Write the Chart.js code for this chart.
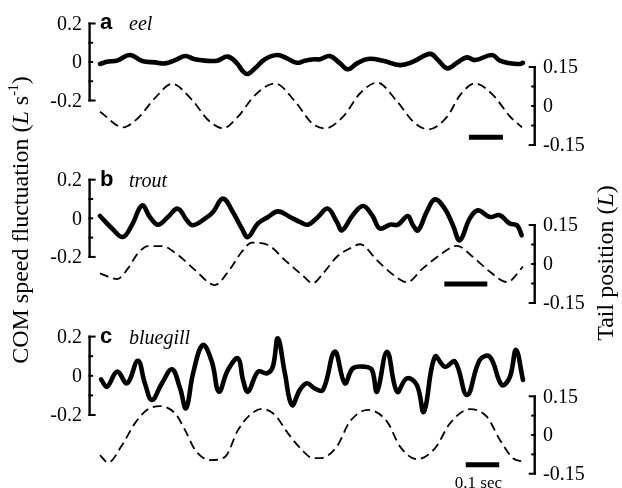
<!DOCTYPE html>
<html>
<head>
<meta charset="utf-8">
<script src="https://cdn.jsdelivr.net/npm/chart.js@4.4.1/dist/chart.umd.min.js"></script>
<style>
  html, body { margin: 0; padding: 0; background: #fff; }
  #wrap { position: relative; width: 622px; height: 488px; }
</style>
</head>
<body>
<div id="wrap"><canvas id="fishChart" width="622" height="488"></canvas></div>
<script>
// Values: time in s, COM speed fluctuation in L/s, tail position in L

// eel
const eelSpeedTime = [0, 0.024, 0.050, 0.088, 0.124, 0.162, 0.191, 0.221, 0.250, 0.279, 0.309, 0.344, 0.376, 0.403, 0.421, 0.435, 0.456, 0.485, 0.521, 0.550, 0.579, 0.603, 0.632, 0.647, 0.676, 0.706, 0.729, 0.756, 0.788, 0.832, 0.882, 0.921, 0.971, 0.994, 1.021, 1.050, 1.079, 1.103, 1.153, 1.176, 1.206, 1.235, 1.244];
const eelSpeed = [-0.010, 0.002, 0.007, 0.036, 0.005, -0.002, -0.007, 0.010, 0.031, 0.014, 0.007, 0.007, 0.028, -0.007, -0.050, -0.062, -0.033, 0.014, 0.036, 0.019, -0.004, 0.007, 0.014, 0.014, 0.031, -0.007, -0.038, -0.007, 0.016, 0.007, -0.016, 0.002, 0.042, 0.010, -0.033, -0.004, 0.024, 0.010, 0.036, 0.007, -0.007, -0.010, -0.004];
const eelTailTime = [0, 0.068, 0.112, 0.162, 0.212, 0.271, 0.318, 0.362, 0.406, 0.456, 0.515, 0.574, 0.624, 0.662, 0.715, 0.765, 0.815, 0.874, 0.921, 0.965, 1.021, 1.059, 1.103, 1.156, 1.206, 1.241];
const eelTail = [-0.022, -0.082, -0.046, 0.031, 0.085, 0.023, -0.054, -0.086, -0.041, 0.042, 0.087, 0.017, -0.067, -0.086, -0.041, 0.049, 0.090, 0.017, -0.060, -0.090, -0.041, 0.042, 0.087, 0.042, -0.041, -0.082];

// trout
const troutSpeedTime = [0, 0.028, 0.053, 0.074, 0.098, 0.116, 0.135, 0.158, 0.181, 0.202, 0.216, 0.244, 0.263, 0.286, 0.309, 0.330, 0.344, 0.367, 0.391, 0.414, 0.442, 0.465, 0.484, 0.507, 0.530, 0.551, 0.563, 0.588, 0.612, 0.633, 0.651, 0.674, 0.693, 0.716, 0.728, 0.740, 0.760, 0.779, 0.802, 0.821, 0.837, 0.860, 0.879, 0.907, 0.930, 0.953, 0.970, 0.981];
const troutSpeed = [0.012, -0.053, -0.097, -0.036, 0.067, 0.007, -0.033, 0.007, 0.050, -0.010, -0.036, -0.002, 0.033, 0.102, 0.033, -0.053, -0.097, -0.027, 0.007, 0.036, 0.007, -0.019, -0.033, 0.007, 0.050, -0.019, -0.062, 0.016, 0.064, 0.016, -0.053, -0.033, -0.033, 0.012, -0.036, -0.062, 0.033, 0.098, 0.050, -0.036, -0.114, -0.002, 0.041, 0.007, 0.016, -0.027, -0.036, -0.088];
const troutTailTime = [0, 0.040, 0.065, 0.088, 0.112, 0.144, 0.181, 0.221, 0.267, 0.298, 0.330, 0.353, 0.391, 0.430, 0.470, 0.495, 0.519, 0.551, 0.581, 0.605, 0.644, 0.681, 0.714, 0.751, 0.791, 0.830, 0.867, 0.907, 0.947, 0.984];
const troutTail = [-0.036, -0.058, -0.017, 0.041, 0.069, 0.069, 0.035, -0.023, -0.081, -0.030, 0.047, 0.082, 0.073, 0.015, -0.042, -0.074, -0.036, 0.028, 0.060, 0.076, 0.015, -0.040, -0.070, -0.017, 0.035, 0.070, 0.028, -0.030, -0.070, -0.010];

// bluegill
const bluegillSpeedTime = [0.003, 0.021, 0.051, 0.081, 0.113, 0.134, 0.155, 0.185, 0.215, 0.239, 0.257, 0.278, 0.307, 0.334, 0.355, 0.382, 0.412, 0.427, 0.442, 0.472, 0.499, 0.516, 0.531, 0.552, 0.573, 0.597, 0.618, 0.642, 0.666, 0.701, 0.731, 0.755, 0.791, 0.812, 0.827, 0.857, 0.887, 0.916, 0.946, 0.967, 1.000, 1.030, 1.060, 1.096, 1.134, 1.164, 1.200, 1.224, 1.242, 1.263];
const bluegillSpeed = [-0.018, -0.056, 0.021, -0.038, 0.077, -0.038, -0.123, -0.038, 0.033, -0.064, -0.166, 0.013, 0.157, 0.072, -0.081, 0.030, 0.089, -0.021, -0.081, 0.021, 0.013, 0.046, 0.191, 0.013, -0.149, -0.072, -0.038, -0.066, -0.072, 0.123, -0.038, 0.038, 0.046, 0.030, -0.081, 0.123, -0.081, -0.013, -0.047, -0.183, 0.097, 0.046, 0.072, -0.098, 0.081, 0.097, -0.047, -0.005, 0.132, -0.021];
const bluegillTailTime = [0, 0.024, 0.066, 0.104, 0.140, 0.179, 0.224, 0.254, 0.284, 0.328, 0.373, 0.412, 0.448, 0.484, 0.522, 0.561, 0.603, 0.636, 0.657, 0.707, 0.746, 0.800, 0.857, 0.896, 0.946, 1.000, 1.045, 1.104, 1.155, 1.194, 1.233, 1.263];
const bluegillTail = [-0.078, -0.107, -0.039, 0.045, 0.097, 0.112, 0.084, 0.019, -0.058, -0.097, -0.085, 0.019, 0.078, 0.101, 0.078, 0.007, -0.058, -0.090, -0.090, -0.045, 0.052, 0.097, 0.052, -0.045, -0.094, -0.052, 0.045, 0.100, 0.071, -0.019, -0.090, -0.103];

// axis ticks
const speedTicks = [-0.2, -0.1, 0, 0.1, 0.2];
const speedLabelled = [-0.2, 0, 0.2];
const tailTicks = [-0.15, -0.075, 0, 0.075, 0.15];
const tailLabelled = [-0.15, 0, 0.15];

// 0.1 s scale bars (start, end) per panel
const eelBar = [1.085, 1.185];
const troutBar = [0.801, 0.901];
const bluegillBar = [1.092, 1.192];

const H = 488;

// where each panel sits on the page: pixel of zero and pixels per unit
const panels = [
  { letter: 'a', name: 'eel', x: 'xa', span: 1.244, speed: { zero: 62, ppu: 192.5 }, tail: { zero: 106, ppu: 260 },
    speedT: eelSpeedTime, speedV: eelSpeed, tailT: eelTailTime, tailV: eelTail, bar: eelBar, barLevel: -0.12, titleY: 29 },
  { letter: 'b', name: 'trout', x: 'xb', span: 0.984, speed: { zero: 218.3, ppu: 193 }, tail: { zero: 264, ppu: 260 },
    speedT: troutSpeedTime, speedV: troutSpeed, tailT: troutTailTime, tailV: troutTail, bar: troutBar, barLevel: -0.077, titleY: 186 },
  { letter: 'c', name: 'bluegill', x: 'xc', span: 1.263, speed: { zero: 375.8, ppu: 196 }, tail: { zero: 435, ppu: 258 },
    speedT: bluegillSpeedTime, speedV: bluegillSpeed, tailT: bluegillTailTime, tailV: bluegillTail, bar: bluegillBar, barLevel: -0.115, titleY: 343 }
];

function yRange(pos) {
  return { min: -(H - pos.zero) / pos.ppu, max: pos.zero / pos.ppu };
}

function pairs(t, v) {
  return t.map((x, i) => ({ x: x, y: v[i] }));
}

const datasets = [];
const scales = {};
panels.forEach((p, i) => {
  const sId = 'speed' + p.letter, tId = 'tail' + p.letter;
  scales[p.x] = { type: 'linear', display: false, min: 0, max: p.span };
  scales[sId] = Object.assign({ type: 'linear', display: false }, yRange(p.speed));
  scales[tId] = Object.assign({ type: 'linear', display: false }, yRange(p.tail));

  datasets.push({
    label: p.name + ' COM speed',
    data: pairs(p.speedT, p.speedV),
    xAxisID: p.x, yAxisID: sId,
    borderColor: '#000', borderWidth: 4.6,
    borderCapStyle: 'round', borderJoinStyle: 'round',
    tension: 0.4,
    pointRadius: 0, clip: false
  });
  datasets.push({
    label: p.name + ' tail',
    data: pairs(p.tailT, p.tailV),
    xAxisID: p.x, yAxisID: tId,
    borderColor: '#000', borderWidth: 1.8, borderDash: [9, 5],
    cubicInterpolationMode: 'monotone',
    pointRadius: 0, clip: false
  });
  datasets.push({
    label: p.name + ' 0.1 s',
    data: p.bar.map(t => ({ x: t, y: p.barLevel })),
    xAxisID: p.x, yAxisID: tId,
    borderColor: '#000', borderWidth: 5, borderCapStyle: 'butt',
    pointRadius: 0, clip: false
  });
});

// draw a bracket-style axis with inward ticks
function drawBracket(ctx, scale, ticks, labelled, axisX, dir, labelX, align) {
  const top = scale.getPixelForValue(ticks[ticks.length - 1]);
  const bottom = scale.getPixelForValue(ticks[0]);
  ctx.lineWidth = 2.4;
  ctx.beginPath();
  ctx.moveTo(axisX, top - 1);
  ctx.lineTo(axisX, bottom + 1);
  ctx.stroke();
  ticks.forEach((v, i) => {
    const y = scale.getPixelForValue(v);
    const len = (i === 0 || i === ticks.length - 1) ? 6 : 3.5;
    ctx.lineWidth = 2;
    ctx.beginPath();
    ctx.moveTo(axisX - dir * 1.2, y);
    ctx.lineTo(axisX + dir * len, y);
    ctx.stroke();
  });
  ctx.font = '20px "Liberation Serif"';
  ctx.textAlign = align;
  ctx.textBaseline = 'middle';
  labelled.forEach(v => ctx.fillText(String(v), labelX, scale.getPixelForValue(v) + 1));
}

// rotated text made of several font runs
function drawRotated(ctx, runs, cx, baseX) {
  ctx.save();
  ctx.translate(baseX, cx);
  ctx.rotate(-Math.PI / 2);
  ctx.textAlign = 'left';
  ctx.textBaseline = 'alphabetic';
  let total = 0;
  runs.forEach(r => { ctx.font = r.font; total += ctx.measureText(r.text).width; });
  let x = -total / 2;
  runs.forEach(r => {
    ctx.font = r.font;
    ctx.fillText(r.text, x, r.dy || 0);
    x += ctx.measureText(r.text).width;
  });
  ctx.restore();
}

const fishAxes = {
  id: 'fishAxes',
  afterDatasetsDraw(chart) {
    const ctx = chart.ctx;
    ctx.save();
    ctx.fillStyle = '#000';
    ctx.strokeStyle = '#000';
    ctx.lineCap = 'butt';
    panels.forEach(p => {
      drawBracket(ctx, chart.scales['speed' + p.letter], speedTicks, speedLabelled, 89.6, 1, 82, 'right');
      drawBracket(ctx, chart.scales['tail' + p.letter], tailTicks, tailLabelled, 534.7, -1, 543, 'left');

      ctx.textAlign = 'left';
      ctx.textBaseline = 'alphabetic';
      ctx.font = 'bold 22px "Liberation Sans"';
      ctx.fillText(p.letter, 100, p.titleY);
      ctx.font = 'italic 20px "Liberation Serif"';
      ctx.fillText(p.name, 129, p.titleY + 1);
    });

    // 0.1 sec label under the last scale bar
    const xc = chart.scales.xc;
    const barMid = (xc.getPixelForValue(bluegillBar[0]) + xc.getPixelForValue(bluegillBar[1])) / 2;
    ctx.font = '17px "Liberation Serif"';
    ctx.textAlign = 'center';
    ctx.fillText('0.1 sec', barMid - 4, 488);

    const serif = '24px "Liberation Serif"';
    const serifIt = 'italic 24px "Liberation Serif"';
    drawRotated(ctx, [
      { text: 'COM speed fluctuation (', font: serif },
      { text: 'L', font: serifIt },
      { text: ' s', font: serif },
      { text: '-1', font: '14px "Liberation Serif"', dy: -10 },
      { text: ')', font: serif }
    ], 220, 27.5);
    drawRotated(ctx, [
      { text: 'Tail position (', font: serif },
      { text: 'L', font: serifIt },
      { text: ')', font: serif }
    ], 263, 613);
    ctx.restore();
  }
};

new Chart(document.getElementById('fishChart'), {
  type: 'line',
  data: { datasets: datasets },
  options: {
    responsive: false,
    animation: false,
    layout: { padding: { left: 100, right: 99, top: 0, bottom: 0 } },
    plugins: { legend: { display: false }, tooltip: { enabled: false } },
    scales: scales
  },
  plugins: [fishAxes]
});
</script>
</body>
</html>
